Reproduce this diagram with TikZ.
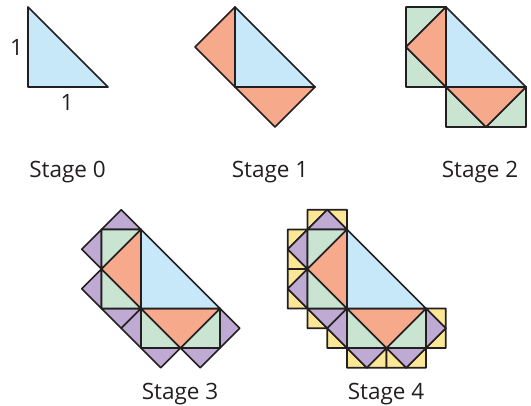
\documentclass[tikz,border=0pt]{standalone}
\usepackage{fontspec}
\setmainfont{Open Sans}
\usetikzlibrary{calc}
\definecolor{c0}{HTML}{C7E8F8}
\definecolor{c1}{HTML}{F6A98B}
\definecolor{c2}{HTML}{C9E4D1}
\definecolor{c3}{HTML}{BFAAD4}
\definecolor{c4}{HTML}{FCE796}
\definecolor{ink}{HTML}{231F20}
\tikzset{
  tri/.style={draw=ink, line width=1.7pt, line join=round},
  lbl/.style={font=\fontsize{22.5}{26}\selectfont, text=ink, inner sep=0pt, anchor=base},
  one/.style={font=\fontsize{22.5}{26}\selectfont, text=ink, inner sep=0pt}
}
% #1 p, #2 q (hypotenuse), #3 current level, #4 target level, #5 apex name
\newcommand\ftri[5]{%
  \coordinate (#5) at ($(#1)!0.70710678!-45:(#2)$);%
  \ifnum#3=#4\relax
    \filldraw[tri, fill=c#3] (#1) -- (#2) -- (#5) -- cycle;%
  \else
    \ftrinext{#1}{#5}{#3}{#4}{#5a}%
    \ftrinext{#5}{#2}{#3}{#4}{#5b}%
  \fi}
\newcommand\ftrinext[5]{%
  \edef\ftriargs{{#1}{#2}{\number\numexpr#3+1\relax}{#4}{#5}}%
  \expandafter\ftri\ftriargs}
\newcommand\stagedraw[3]{% #1 T name, #2 R name, #3 max level
  \foreach \k in {#3,...,0}{\ftri{#1}{#2}{0}{\k}{#1x}}}
\begin{document}
\begin{tikzpicture}[x=1pt,y=-1pt]
\useasboundingbox (0,0) rectangle (531,405);
% stage anchors
\coordinate (ta) at (28,7);     \coordinate (ra) at (108,87);
\coordinate (tb) at (235,7);    \coordinate (rb) at (315,87);
\coordinate (tc) at (446,7);    \coordinate (rc) at (526,87);
\coordinate (td) at (141,229.5);\coordinate (rd) at (220,308.5);
\coordinate (te) at (347,229.5);\coordinate (re) at (426,308.5);
\stagedraw{ta}{ra}{0}
\stagedraw{tb}{rb}{1}
\stagedraw{tc}{rc}{2}
\stagedraw{td}{rd}{3}
\stagedraw{te}{re}{4}
% labels
\node[one] (la) at (16.5,47.5) {1};
\node[one] (lb) at (67,102.5) {1};
\node[lbl] (s0) at (67.5,177) {Stage 0};
\node[lbl] (s1) at (270,177) {Stage 1};
\node[lbl] (s2) at (480,177) {Stage 2};
\node[lbl] (s3) at (180,399) {Stage 3};
\node[lbl] (s4) at (386,399) {Stage 4};
\end{tikzpicture}
\end{document}
